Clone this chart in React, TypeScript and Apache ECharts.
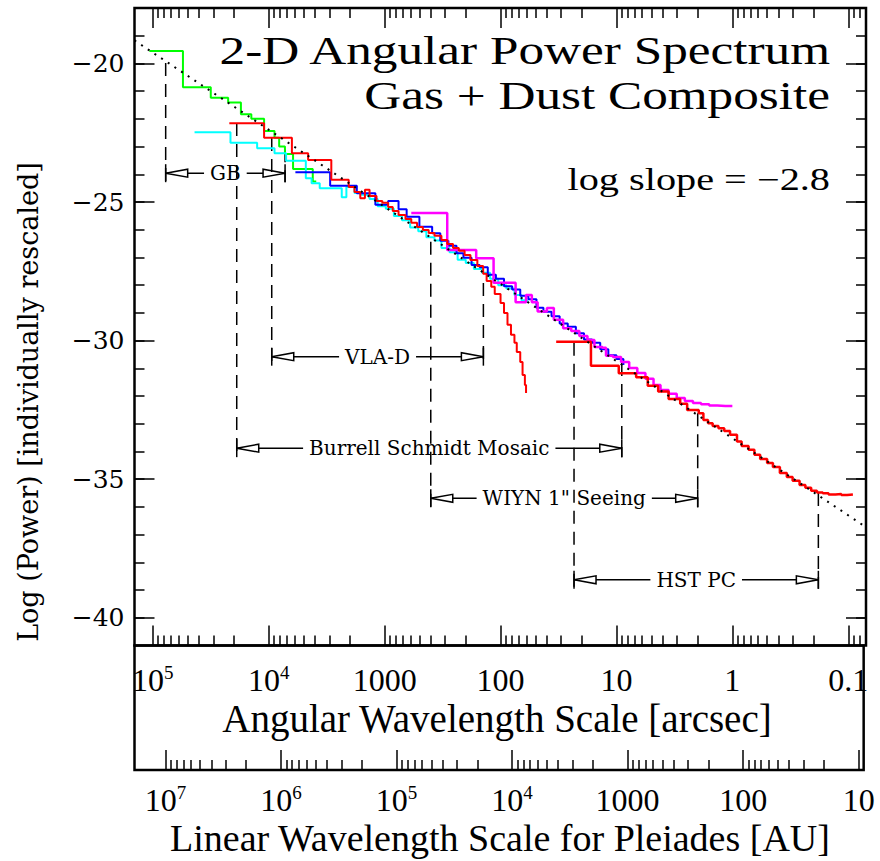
import React, { useEffect, useRef } from "react";
import * as echarts from "echarts";

// Axis extents (x in log10 arcsec, reversed; y in log power)
const X_MIN = -1.153;
const X_MAX = 5.158;
const Y_MIN = -41;
const Y_MAX = -18;
const AU_OFFSET = 2.11; // log10 of the Pleiades distance in pc

const arcsecMajorTicks = [-1, 0, 1, 2, 3, 4, 5];
const auMajorTicks = [1, 2, 3, 4, 5, 6, 7];
const powerMajorTicks = [-40, -35, -30, -25, -20];
const powerMinorTicks = [-40, -39, -38, -37, -36, -35, -34, -33, -32, -31, -30, -29, -28, -27, -26, -25, -24, -23, -22, -21, -20, -19];

// log slope = -2.8 reference line (end points)
const fitLine = [[5.158, -19.17], [-1.153, -36.73]];

const greenGB = [[5.03, -19.55], [4.74, -20.86], [4.5, -21.24], [4.35, -21.41], [4.24, -21.83], [4.15, -22.0], [4.04, -22.44], [3.95, -22.68], [3.91, -23.0], [3.86, -23.27], [3.79, -23.81], [3.62, -24.26], [3.59, -24.26]];

const cyanDust = [[4.64, -22.48], [4.33, -22.86], [4.1, -23.06], [3.95, -23.24], [3.85, -23.51], [3.68, -24.14], [3.63, -24.32], [3.56, -24.5], [3.37, -24.83], [3.33, -24.46], [3.26, -24.67], [3.2, -24.74], [3.13, -24.89], [3.06, -25.15], [2.99, -25.24], [2.92, -25.5], [2.85, -25.66], [2.78, -25.92], [2.71, -26.05], [2.64, -26.27], [2.57, -26.39], [2.51, -26.66], [2.44, -26.81], [2.37, -27.08], [2.3, -27.2], [2.23, -27.42], [2.16, -27.55], [2.09, -27.77], [2.02, -28.0], [1.95, -28.12], [1.88, -28.35], [1.82, -28.54], [1.77, -28.63]];

const blueSchmidt = [[3.77, -23.93], [3.47, -24.41], [3.24, -24.68], [3.08, -25.1], [2.97, -24.96], [2.88, -25.26], [2.81, -25.53], [2.7, -25.89], [2.59, -26.13], [2.52, -26.4], [2.45, -26.58], [2.38, -26.85], [2.32, -27.01], [2.25, -27.27], [2.18, -27.35], [2.11, -27.62], [2.04, -27.77], [1.97, -28.04], [1.9, -28.16], [1.83, -28.38], [1.76, -28.51], [1.69, -28.81], [1.63, -28.96], [1.56, -29.12], [1.49, -29.38], [1.42, -29.5], [1.35, -29.73], [1.28, -29.96], [1.21, -30.08], [1.14, -30.31], [1.07, -30.53], [1.0, -30.66], [0.94, -30.88]];

const magentaWiyn = [[2.77, -25.4], [2.46, -26.73], [2.21, -27.03], [2.06, -27.91], [1.87, -28.62], [1.78, -28.35], [1.73, -28.62], [1.68, -28.95], [1.6, -28.82], [1.54, -29.25], [1.46, -29.55], [1.39, -29.65], [1.32, -29.83], [1.25, -29.98], [1.19, -30.23], [1.12, -30.26], [1.09, -30.55], [1.03, -30.59], [0.96, -30.77], [0.89, -30.99], [0.82, -31.17], [0.75, -31.38], [0.68, -31.6], [0.62, -31.78], [0.55, -31.92], [0.48, -32.07], [0.41, -32.18], [0.34, -32.25], [0.27, -32.3], [0.2, -32.34], [0.13, -32.36], [0.06, -32.36], [0.0, -32.36]];

const redVla = [[4.34, -22.16], [4.04, -22.68], [3.8, -23.24], [3.66, -23.48], [3.46, -24.2], [3.31, -24.46], [3.26, -24.64], [3.21, -24.86], [3.17, -24.56], [3.13, -24.78], [3.07, -24.96], [3.02, -25.03], [2.97, -25.18], [2.93, -25.32], [2.88, -25.47], [2.82, -25.61], [2.77, -25.75], [2.72, -25.9], [2.67, -26.01], [2.62, -26.12], [2.57, -26.22], [2.51, -26.37], [2.46, -26.51], [2.41, -26.66], [2.36, -26.76], [2.31, -26.91], [2.26, -27.09], [2.2, -27.31], [2.15, -27.59], [2.12, -27.85], [2.08, -28.06], [2.05, -28.32], [2.0, -28.64], [1.97, -29.0], [1.94, -29.43], [1.91, -29.79], [1.88, -30.08], [1.86, -30.41], [1.83, -30.77], [1.81, -31.24], [1.79, -31.6], [1.78, -31.89]];

const redHst = [[1.52, -30.04], [1.22, -30.91], [0.98, -31.18], [0.83, -31.32], [0.73, -31.63], [0.64, -31.84], [0.55, -32.11], [0.45, -32.28], [0.39, -32.5], [0.29, -32.62], [0.25, -32.86], [0.21, -32.98], [0.17, -33.08], [0.12, -33.16], [0.07, -33.26], [0.02, -33.4], [-0.04, -33.64], [-0.08, -33.8], [-0.14, -33.94], [-0.19, -34.12], [-0.24, -34.27], [-0.3, -34.42], [-0.35, -34.56], [-0.41, -34.78], [-0.47, -34.92], [-0.52, -35.06], [-0.58, -35.21], [-0.63, -35.31], [-0.68, -35.42], [-0.73, -35.48], [-0.78, -35.51], [-0.83, -35.55], [-0.89, -35.53], [-0.94, -35.57], [-0.99, -35.55], [-1.04, -35.57]];

// Instrument ranges: [leftX, rightX, bracketY, dashTopLeftY, dashTopRightY]
const bracketRows = [
  [4.889, 3.859, -23.96, -19.98, -23.1],
  [3.974, 2.148, -30.58, -22.69, -27.92],
  [4.276, 0.954, -33.88, -22.15, -30.81],
  [2.602, 0.299, -35.69, -26.43, -32.62],
  [1.366, -0.742, -38.63, -30.08, -35.5],
];
const bracketLabels = ["GB", "VLA-D", "Burrell Schmidt Mosaic", 'WIYN 1" Seeing', "HST PC"];

const titleLines = ["2-D Angular Power Spectrum", "Gas + Dust Composite"];
const slopeLabel = "log slope = \u22122.8";
const xTitle = "Angular Wavelength Scale [arcsec]";
const auTitle = "Linear Wavelength Scale for Pleiades [AU]";
const yTitle = "Log (Power) [individually rescaled]";

function logMinorTicks(min: number, max: number): number[] {
  const out: number[] = [];
  for (let n = Math.floor(min) - 1; n <= Math.ceil(max); n++) {
    for (let k = 2; k <= 9; k++) {
      const v = n + Math.log10(k);
      if (v > min && v < max) out.push(v);
    }
  }
  return out;
}

const SERIF = "Liberation Serif";
const CENTURY = "DejaVu Serif";

function powLabel(v: number): string {
  const r = Math.round(v);
  if (r >= 4) return `10{sup|${r}}`;
  if (r >= 0) return String(Math.round(Math.pow(10, r)));
  return String(Math.pow(10, r));
}

const tickLine = { color: "#000", width: 1.5 };

function xAxisDef(grid: number, position: string, min: number, max: number, ticks: number[], len: number, labels: boolean, margin = 18) {
  return {
    type: "value",
    gridIndex: grid,
    position,
    min,
    max,
    inverse: true,
    axisLine: { show: false, onZero: false },
    splitLine: { show: false },
    axisTick: { show: true, inside: true, length: len, lineStyle: tickLine, customValues: ticks },
    axisLabel: labels
      ? {
          show: true,
          customValues: ticks,
          formatter: powLabel,
          margin,
          color: "#000",
          fontFamily: SERIF,
          fontSize: 32,
          lineHeight: 34,
          rich: { sup: { fontFamily: SERIF, fontSize: 19, lineHeight: 19, verticalAlign: "top", color: "#000" } },
        }
      : { show: false },
  };
}

function yAxisDef(position: string, ticks: number[], len: number, labels: boolean) {
  return {
    type: "value",
    gridIndex: 0,
    position,
    min: Y_MIN,
    max: Y_MAX,
    axisLine: { show: false, onZero: false },
    splitLine: { show: false },
    axisTick: { show: true, inside: true, length: len, lineStyle: tickLine, customValues: ticks },
    axisLabel: labels
      ? {
          show: true,
          customValues: ticks,
          formatter: (v: number) => (v < 0 ? "\u2212" + Math.abs(v) : String(v)),
          margin: 10,
          color: "#000",
          fontFamily: CENTURY,
          fontSize: 25,
        }
      : { show: false },
  };
}

function stepLine(name: string, data: number[][], color: string, z: number, width = 2) {
  return {
    type: "line",
    name,
    data,
    step: "end",
    xAxisIndex: 0,
    yAxisIndex: 0,
    symbol: "none",
    showSymbol: false,
    silent: true,
    z,
    lineStyle: { color, width },
  };
}

export default function App() {
  const ref = useRef<HTMLDivElement>(null);

  useEffect(() => {
    if (!ref.current) return;
    const chart = echarts.init(ref.current, undefined, { renderer: "svg" });
    const arcMinor = logMinorTicks(X_MIN, X_MAX);
    const auMinor = logMinorTicks(X_MIN + AU_OFFSET, X_MAX + AU_OFFSET);

    const option: any = {
      animation: false,
      backgroundColor: "#fff",
      grid: [
        { left: 134.5, top: 8, width: 731.5, height: 637.5, show: true, borderColor: "#000", borderWidth: 2.5, backgroundColor: "transparent" },
        { left: 134.5, top: 645.5, width: 731.5, height: 124.5, show: true, borderColor: "#000", borderWidth: 2.5, backgroundColor: "transparent" },
      ],
      xAxis: [
        xAxisDef(0, "bottom", X_MIN, X_MAX, arcsecMajorTicks, 20, true, 17),
        xAxisDef(0, "bottom", X_MIN, X_MAX, arcMinor, 10, false),
        xAxisDef(0, "top", X_MIN, X_MAX, arcsecMajorTicks, 20, false),
        xAxisDef(0, "top", X_MIN, X_MAX, arcMinor, 10, false),
        xAxisDef(1, "bottom", X_MIN + AU_OFFSET, X_MAX + AU_OFFSET, auMajorTicks, 20, true, 13),
        xAxisDef(1, "bottom", X_MIN + AU_OFFSET, X_MAX + AU_OFFSET, auMinor, 10, false),
      ],
      yAxis: [
        yAxisDef("left", powerMajorTicks, 20, true),
        yAxisDef("left", powerMinorTicks, 10, false),
        yAxisDef("right", powerMajorTicks, 20, false),
        yAxisDef("right", powerMinorTicks, 10, false),
        { type: "value", gridIndex: 1, min: 0, max: 1, show: false },
      ],
      series: [
        {
          type: "custom",
          name: "ranges",
          xAxisIndex: 0,
          yAxisIndex: 0,
          z: 1,
          silent: true,
          clip: false,
          data: bracketRows,
          encode: { x: [0, 1], y: [2, 3, 4] },
          renderItem: (params: any, api: any) => {
            const p1 = api.coord([api.value(0), api.value(2)]);
            const p2 = api.coord([api.value(1), api.value(2)]);
            const y = p1[1];
            const AL = 22, AH = 4, T = 9;
            const st = { stroke: "#000", lineWidth: 1.5, fill: null };
            return {
              type: "group",
              children: [
                { type: "line", shape: { x1: p1[0], y1: y, x2: p2[0], y2: y }, style: st },
                { type: "line", shape: { x1: p1[0], y1: y - T, x2: p1[0], y2: y + T }, style: st },
                { type: "line", shape: { x1: p2[0], y1: y - T, x2: p2[0], y2: y + T }, style: st },
                { type: "polygon", shape: { points: [[p1[0], y], [p1[0] + AL, y - AH], [p1[0] + AL, y + AH]] }, style: { fill: "#fff", stroke: "#000", lineWidth: 1.5 } },
                { type: "polygon", shape: { points: [[p2[0], y], [p2[0] - AL, y - AH], [p2[0] - AL, y + AH]] }, style: { fill: "#fff", stroke: "#000", lineWidth: 1.5 } },
                {
                  type: "text",
                  x: (p1[0] + p2[0]) / 2,
                  y,
                  style: {
                    text: bracketLabels[params.dataIndex],
                    align: "center",
                    verticalAlign: "middle",
                    fontFamily: CENTURY,
                    fontSize: 20,
                    fill: "#000",
                    backgroundColor: "#fff",
                    padding: [1, 6, 1, 6],
                  },
                },
              ],
            };
          },
        },
        {
          type: "custom",
          name: "range-edges",
          xAxisIndex: 0,
          yAxisIndex: 0,
          z: 2,
          silent: true,
          clip: false,
          data: bracketRows,
          encode: { x: [0, 1], y: [2, 3, 4] },
          renderItem: (params: any, api: any) => {
            const b1 = api.coord([api.value(0), api.value(2)]);
            const b2 = api.coord([api.value(1), api.value(2)]);
            const t1 = api.coord([api.value(0), api.value(3)]);
            const t2 = api.coord([api.value(1), api.value(4)]);
            const st = { stroke: "#000", lineWidth: 1.5, lineDash: [13, 8], fill: null };
            return {
              type: "group",
              children: [
                { type: "line", shape: { x1: t1[0], y1: t1[1], x2: b1[0], y2: b1[1] + 9 }, style: st },
                { type: "line", shape: { x1: t2[0], y1: t2[1], x2: b2[0], y2: b2[1] + 9 }, style: st },
              ],
            };
          },
        },
        stepLine("GB", greenGB, "#00ff00", 3),
        stepLine("Dust", cyanDust, "#00ffff", 4),
        stepLine("Burrell Schmidt", blueSchmidt, "#0000ff", 5),
        stepLine("WIYN", magentaWiyn, "#ff00ff", 6, 2.5),
        stepLine("VLA-D", redVla, "#ff0000", 7),
        stepLine("HST PC", redHst, "#ff0000", 7, 2.5),
        {
          type: "line",
          name: "slope",
          data: fitLine,
          xAxisIndex: 0,
          yAxisIndex: 0,
          symbol: "none",
          silent: true,
          z: 10,
          lineStyle: { color: "#000", width: 2, type: [2, 6] },
        },
      ],
      graphic: [
        { type: "text", x: 830, y: 50, scaleX: 1.25, style: { text: titleLines[0], fontFamily: SERIF, fontSize: 41, align: "right", verticalAlign: "middle", fill: "#000" } },
        { type: "text", x: 830, y: 95, scaleX: 1.25, style: { text: titleLines[1], fontFamily: SERIF, fontSize: 41, align: "right", verticalAlign: "middle", fill: "#000" } },
        { type: "text", x: 830, y: 180, scaleX: 1.3, style: { text: slopeLabel, fontFamily: SERIF, fontSize: 31, align: "right", verticalAlign: "middle", fill: "#000" } },
        { type: "text", x: 497, y: 718, style: { text: xTitle, fontFamily: SERIF, fontSize: 39, align: "center", verticalAlign: "middle", fill: "#000" } },
        { type: "text", x: 500, y: 838, style: { text: auTitle, fontFamily: SERIF, fontSize: 38, align: "center", verticalAlign: "middle", fill: "#000" } },
        { type: "text", x: 28, y: 402, rotation: Math.PI / 2, style: { text: yTitle, fontFamily: CENTURY, fontSize: 27, align: "center", verticalAlign: "middle", fill: "#000" } },
      ],
    };
    chart.setOption(option);
    return () => chart.dispose();
  }, []);

  return <div ref={ref} style={{ position: "absolute", left: 0, top: 0, width: 880, height: 861 }} />;
}
